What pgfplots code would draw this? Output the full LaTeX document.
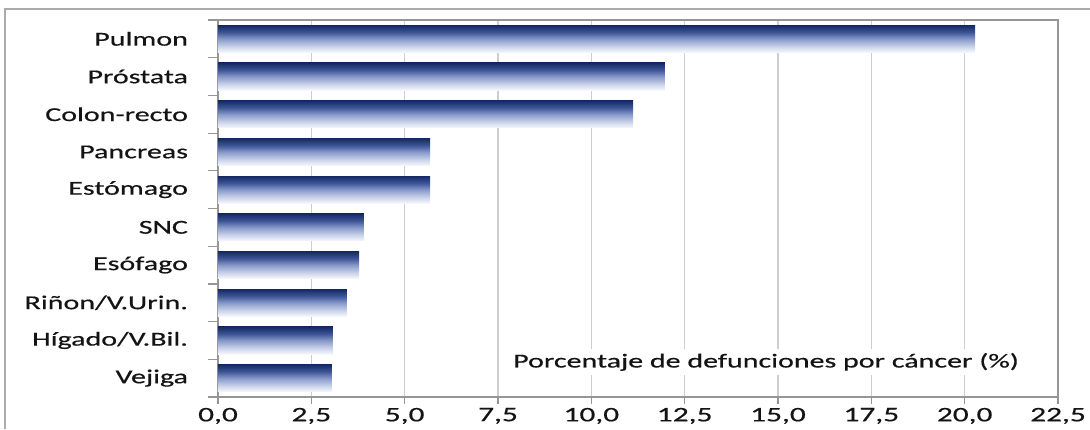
\documentclass[border=0pt]{standalone}
\usepackage{fontspec}
\setmainfont[FakeStretch=1.52,FakeBold=0.5]{Carlito}
\usepackage{pgfplots}
\pgfplotsset{compat=1.18}
\definecolor{navy}{RGB}{20,42,102}
\definecolor{barmid}{RGB}{62,86,150}
\definecolor{barmid2}{RGB}{135,153,202}
\definecolor{barlight}{RGB}{246,248,253}
\definecolor{txt}{RGB}{20,20,20}
\definecolor{gridc}{RGB}{205,205,205}
\definecolor{axc}{RGB}{150,150,150}
\pgfdeclareverticalshading{barshade}{100bp}{color(0bp)=(barlight); color(25bp)=(barlight); color(36bp)=(barmid2!40!barlight); color(50bp)=(barmid2); color(62bp)=(barmid); color(75bp)=(navy); color(100bp)=(navy)}
\pgfplotsset{onebar/.style={xbar, bar shift=0pt, bar width=0.72, draw=none, shade, shading=barshade, forget plot}}
\begin{document}
\begin{tikzpicture}[x=0.75pt,y=0.75pt,font=\fontsize{14.8}{17}\selectfont]
\useasboundingbox (0,0) rectangle (1090,429);
\draw[color=axc!80, line width=1.1pt] (5,0) -- (5,420) -- (1092,420);
\begin{axis}[
  at={(163.5pt,24pt)}, anchor=south west,
  scale only axis, width=630pt, height=282.75pt,
  xmin=0, xmax=22.5, ymin=-0.5, ymax=9.5,
  xtick={0,2.5,...,22.5},
  ytick={0,...,9},
  yticklabels={Vejiga,Hígado/V.Bil.,Riñon/V.Urin.,Esófago,SNC,Estómago,Pancreas,Colon-recto,Próstata,Pulmon},
  minor ytick={-0.5,0.5,...,9.5},
  major tick length=5pt,
  minor tick length=7.5pt,
  major x tick style={draw=axc, line width=0.9pt},
  major y tick style={draw=none},
  minor y tick style={draw=axc, line width=0.9pt},
  tick align=outside,
  tick pos=left,
  xmajorgrids,
  major grid style={draw=gridc, line width=1.1pt},
  axis line style={draw=axc, line width=0.9pt},
  ticklabel style={text=txt},
  xticklabel style={/pgf/number format/fixed, /pgf/number format/fixed zerofill, /pgf/number format/precision=1, /pgf/number format/use comma, /pgf/number format/assume math mode=true, font=\fontsize{15.5}{17}\selectfont, inner sep=0pt, yshift=-3pt},
  yticklabel style={xshift=-14pt, anchor=east},
]
\addplot[onebar] coordinates {(3.05,0)};
\addplot[onebar] coordinates {(3.08,1)};
\addplot[onebar] coordinates {(3.45,2)};
\addplot[onebar] coordinates {(3.78,3)};
\addplot[onebar] coordinates {(3.91,4)};
\addplot[onebar] coordinates {(5.68,5)};
\addplot[onebar] coordinates {(5.68,6)};
\addplot[onebar] coordinates {(11.12,7)};
\addplot[onebar] coordinates {(11.97,8)};
\addplot[onebar] coordinates {(20.28,9)};
\node[fill=white, inner sep=3pt, text=txt] at (axis cs:14.68,0.43) {Porcentaje de defunciones por cáncer (\%)};
\end{axis}
\end{tikzpicture}
\end{document}
